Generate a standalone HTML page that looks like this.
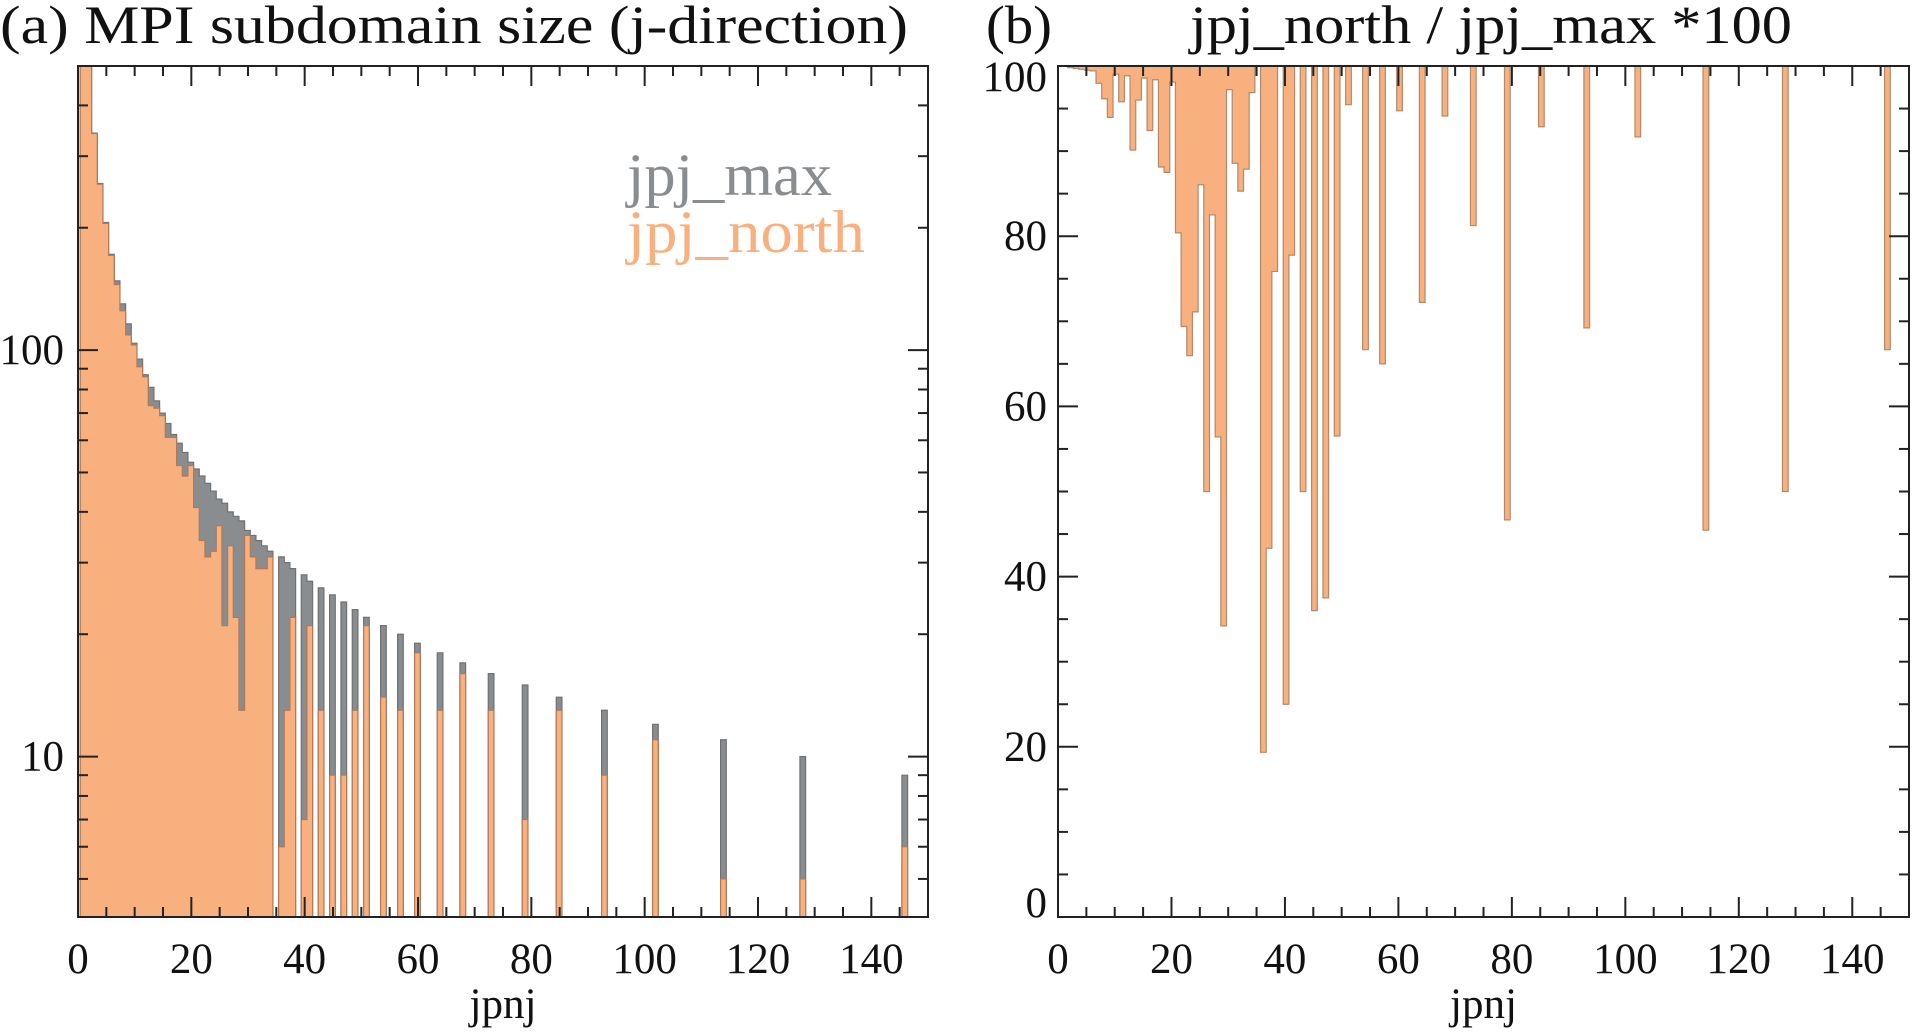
<!DOCTYPE html>
<html><head><meta charset="utf-8"><style>
html,body{margin:0;padding:0;background:#fff;}
svg{display:block;font-family:"Liberation Serif",serif;}
</style></head><body>
<svg id="chart" width="1913" height="1035" viewBox="0 0 1913 1035" xmlns="http://www.w3.org/2000/svg">
<g id="pa"></g>
<g id="pb"></g>
</svg>
<script>
const jpnj = [1,2,3,4,5,6,7,8,9,10,11,12,13,14,15,16,17,18,19,20,21,22,23,24,25,26,27,28,29,30,31,32,33,34,36,37,38,40,41,43,45,47,49,51,54,57,60,64,68,73,79,85,93,102,114,128,146];
const jpjMax = [1021,512,342,257,206,172,148,130,116,104,95,87,81,75,70,66,62,59,56,53,51,49,47,45,43,42,40,39,38,36,35,34,33,32,31,30,29,28,27,26,25,24,23,22,21,20,19,18,17,16,15,14,13,12,11,10,9];
const jpjNorth = [1021,511,341,256,205,171,145,125,109,103,91,86,73,72,69,61,61,52,49,52,41,34,31,32,37,21,33,22,13,35,31,29,29,31,6,13,22,7,21,13,9,9,13,21,14,13,18,13,16,13,7,13,9,11,5,5,6];
const xTickLabels = [0,20,40,60,80,100,120,140];
const yTickLabelsA = [10,100];
const yTickLabelsB = [0,20,40,60,80,100];

const NS="http://www.w3.org/2000/svg";
function mk(parent,tag,attrs,text){const e=document.createElementNS(NS,tag);for(const k in attrs)e.setAttribute(k,attrs[k]);if(text!==undefined)e.textContent=text;parent.appendChild(e);return e;}

const ORANGE="#f9b07f", GREY="#8a8d90";
const A={x0:78,x1:928,y0:66,y1:917};
const B={x0:1058,x1:1909,y0:66,y1:917};
const xMin=0,xMax=150;
const xA=v=>A.x0+(v-xMin)/(xMax-xMin)*(A.x1-A.x0);
const xB=v=>B.x0+(v-xMin)/(xMax-xMin)*(B.x1-B.x0);
const lmin=Math.log10(4.03), lmax=Math.log10(500);
const yA=v=>A.y1-(Math.log10(v)-lmin)/(lmax-lmin)*(A.y1-A.y0);
const yB=v=>B.y1-(v/100)*(B.y1-B.y0);

const pa=document.getElementById('pa'), pb=document.getElementById('pb');
const defs=mk(document.getElementById('chart'),'defs',{});
const cpa=mk(defs,'clipPath',{id:'cpa'});mk(cpa,'rect',{x:A.x0,y:A.y0,width:A.x1-A.x0,height:A.y1-A.y0});
const cpb=mk(defs,'clipPath',{id:'cpb'});mk(cpb,'rect',{x:B.x0,y:B.y0,width:B.x1-B.x0,height:B.y1-B.y0});

// split into contiguous runs of jpnj
function runs(){const r=[];let cur=[];jpnj.forEach((k,i)=>{if(cur.length&&jpnj[cur[cur.length-1]]!==k-1){r.push(cur);cur=[];}cur.push(i);});if(cur.length)r.push(cur);return r;}
// step outline path from base: bars between xl(k),xr(k), heights y(i)
function stepPath(run,xf,yf,base,off0,off1){
  let d='';
  run.forEach((i,j)=>{const k=jpnj[i];const xl=xf(k+off0),xr=xf(k+off1),y=yf(i);
    if(j===0)d+=`M${xl},${base}L${xl},${y}`;else d+=`L${xl},${y}`;
    d+=`L${xr},${y}`;});
  const last=jpnj[run[run.length-1]];
  d+=`L${xf(last+off1)},${base}Z`;
  return d;
}

const barsA=mk(pa,'g',{'clip-path':'url(#cpa)'});


const R=runs();
const yMaxA=i=>Math.max(yA(jpjMax[i]),A.y0-5);
const yNorA=i=>Math.max(yA(jpjNorth[i]),A.y0-5);
R.forEach((run,ri)=>{
  const g=mk(barsA,'path',{d:stepPath(run,xA,yMaxA,A.y1,-0.6,0.4),fill:GREY,stroke:"#6f7173","stroke-width":1.2});
  
  
});
R.forEach((run,ri)=>{
  const o=mk(barsA,'path',{d:stepPath(run,xA,yNorA,A.y1,-0.6,0.4),fill:ORANGE,stroke:"#b07a58","stroke-width":1.2});
  
  
});

const barsB=mk(pb,'g',{'clip-path':'url(#cpb)'});


const yRB=i=>yB(jpjNorth[i]/jpjMax[i]*100);
R.forEach((run,ri)=>{
  const o=mk(barsB,'path',{d:stepPath(run,xB,yRB,B.y0,-0.3,0.7),fill:ORANGE,stroke:"#b08a6c","stroke-width":1.2});
  
  
});

function frame(p,P,xf){
  const f=mk(p,'rect',{x:P.x0,y:P.y0,width:P.x1-P.x0,height:P.y1-P.y0,fill:"none",stroke:"#222","stroke-width":2});
  
  
  for(let v=0;v<=150;v+=5){
    const len=(v%20===0)?20:10, x=xf(v);
    mk(p,'line',{x1:x,y1:P.y1,x2:x,y2:P.y1-len,stroke:"#222","stroke-width":2});
    mk(p,'line',{x1:x,y1:P.y0,x2:x,y2:P.y0+len,stroke:"#222","stroke-width":2});
  }
  xTickLabels.forEach(v=>{
    const t=mk(p,'text',{x:xf(v),y:973,'font-size':43,'text-anchor':'middle',fill:"#111"},String(v));
    
    
  });
  const xt=mk(p,'text',{x:(P.x0+P.x1)/2,y:1018,'font-size':43,'text-anchor':'middle',fill:"#111"},'jpnj');
  
  
}
frame(pa,A,xA);
frame(pb,B,xB);

[5,6,7,8,9,10,20,30,40,50,60,70,80,90,100,200,300,400].forEach(v=>{
  const len=(v===10||v===100)?20:10, y=yA(v);
  mk(pa,'line',{x1:A.x0,y1:y,x2:A.x0+len,y2:y,stroke:"#222","stroke-width":2});
  mk(pa,'line',{x1:A.x1,y1:y,x2:A.x1-len,y2:y,stroke:"#222","stroke-width":2});
});
yTickLabelsA.forEach(v=>{
  const t=mk(pa,'text',{x:64,y:yA(v)+14,'font-size':43,'text-anchor':'end',fill:"#111"},String(v));
  
  
});
for(let v=0;v<=100;v+=5){
  const len=(v%20===0)?20:10, y=yB(v);
  mk(pb,'line',{x1:B.x0,y1:y,x2:B.x0+len,y2:y,stroke:"#222","stroke-width":2});
  mk(pb,'line',{x1:B.x1,y1:y,x2:B.x1-len,y2:y,stroke:"#222","stroke-width":2});
}
yTickLabelsB.forEach(v=>{
  let y=yB(v)+14; if(v===100) y=91; if(v===0) y=917;
  const t=mk(pb,'text',{x:1047,y:y,'font-size':43,'text-anchor':'end',fill:"#111"},String(v));
  
  
});

const ta=mk(pa,'text',{x:0,y:43,'font-size':54,fill:"#111",textLength:908,lengthAdjust:"spacingAndGlyphs"},'(a)  MPI subdomain size (j-direction)');


const tbl=mk(pb,'text',{x:986,y:43,'font-size':54,fill:"#111",textLength:66,lengthAdjust:"spacingAndGlyphs"},'(b)');


const tb=mk(pb,'text',{x:1190,y:43,'font-size':54,fill:"#111",textLength:602,lengthAdjust:"spacingAndGlyphs"},'jpj_north / jpj_max *100');



const l1=mk(pa,'text',{x:627,y:195,'font-size':60,fill:GREY,textLength:205,lengthAdjust:"spacingAndGlyphs"},'jpj_max');


const l2=mk(pa,'text',{x:627,y:252,'font-size':60,fill:ORANGE,textLength:238,lengthAdjust:"spacingAndGlyphs"},'jpj_north');


</script>
</body></html>
